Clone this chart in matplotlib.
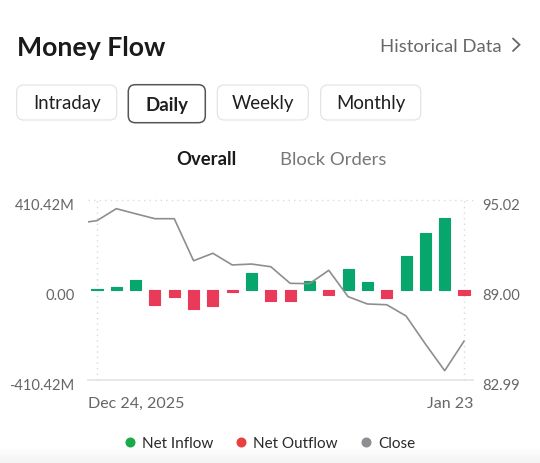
import matplotlib
matplotlib.use("Agg")
import matplotlib.pyplot as plt
import matplotlib.transforms as mtransforms
import numpy as np
from matplotlib.patches import FancyBboxPatch
from matplotlib.lines import Line2D

plt.rcParams['font.family'] = ['Lato', 'DejaVu Sans']

# ---------------- data ----------------
dates = ['Dec 24, 2025', 'Dec 26', 'Dec 29', 'Dec 30', 'Dec 31', 'Jan 2',
         'Jan 5', 'Jan 6', 'Jan 7', 'Jan 8', 'Jan 9', 'Jan 12', 'Jan 13',
         'Jan 14', 'Jan 15', 'Jan 16', 'Jan 20', 'Jan 21', 'Jan 22', 'Jan 23']
net_flow_m = [4, 12, 44, -68, -32, -90, -74, -12, 75, -50,
              -53, 41, -23, 93, 36, -39, 154, 259, 326, -26]
close = [93.62, 94.42, 94.08, 93.75, 93.75, 90.94, 91.44, 90.66, 90.72, 90.54,
         89.43, 89.41, 90.30, 88.54, 88.05, 88.00, 87.25, 85.38, 83.59, 85.56]
prev_close = 93.44
flow_ticks = [-410.42, 0.0, 410.42]
flow_tick_labels = ['-410.42M', '0.00', '410.42M']
price_ticks = [82.99, 89.00, 95.02]
price_tick_labels = ['82.99', '89.00', '95.02']
tabs = ['Intraday', 'Daily', 'Weekly', 'Monthly']
selected_tab = 'Daily'
sub_tabs = ['Overall', 'Block Orders']
legend_labels = ['Net Inflow', 'Net Outflow', 'Close']

GREEN = '#07A66C'
RED = '#EA3A5A'
LINE = '#8E8E8E'
LEG_GREEN = '#1AAA4A'
LEG_RED = '#E8423F'
LEG_GRAY = '#8E8E93'

W, H = 540, 464
fig = plt.figure(figsize=(W / 100, H / 100), dpi=100)
fig.patch.set_facecolor('white')

# ------------- overlay axes in pixel coordinates -------------
bg = fig.add_axes([0, 0, 1, 1], zorder=0)
bg.set_xlim(0, W)
bg.set_ylim(H, 0)
bg.axis('off')
bg.patch.set_visible(False)

bg.text(17, 56, 'Money Flow', fontsize=19.2, fontweight='bold', color='#1a1a1a',
        va='baseline', ha='left')
bg.text(380.5, 52.5, 'Historical Data', fontsize=13.3, color='#666666',
        va='baseline', ha='left')
bg.plot([513, 519.5, 513], [39.5, 45.7, 52], color='#666666', lw=1.3,
        solid_capstyle='round', solid_joinstyle='miter')

tab_boxes = [(16.7, 86, 100, 35), (128.3, 85.7, 77, 38), (217.3, 86, 91, 35), (320.7, 86, 100, 35)]
for name, (bx, by, bw, bh) in zip(tabs, tab_boxes):
    sel = name == selected_tab
    box = FancyBboxPatch((bx, by), bw, bh,
                         boxstyle='round,pad=0,rounding_size=7',
                         facecolor='white',
                         edgecolor='#555555' if sel else '#e4e4e4',
                         linewidth=1.1 if sel else 0.9)
    bg.add_patch(box)
    bg.text(bx + bw / 2, by + bh / 2 + (6.0 if sel else 5.2), name,
            fontsize=13.4, color='#1f1f1f',
            fontweight='bold' if sel else 'normal',
            ha='center', va='baseline')

bg.text(206.5, 165, sub_tabs[0], fontsize=13.3, fontweight='bold', color='#1a1a1a',
        ha='center', va='baseline')
bg.text(333.3, 165, sub_tabs[1], fontsize=13.3, color='#777777',
        ha='center', va='baseline')

# subtle bottom shade
grad = np.linspace(0, 1, 30).reshape(-1, 1)
bg.imshow(grad, extent=[0, W, H, 448], cmap='Greys', vmin=0, vmax=10,
          aspect='auto', zorder=0)

# ------------- chart -------------
ax = fig.add_axes([88 / W, 1 - 380.7 / H, 385 / W, 180 / H], zorder=2)
ax.patch.set_visible(False)
x = np.arange(len(dates))
bar_colors = [GREEN if v >= 0 else RED for v in net_flow_m]
ax.bar(x, net_flow_m, width=0.57, color=bar_colors, edgecolor=bar_colors,
       linewidth=0.8, joinstyle='round', zorder=3)
ax.set_xlim(-0.466, len(dates) - 1 + 0.466)
ax.set_ylim(flow_ticks[0], flow_ticks[-1])

ax.axhline(flow_ticks[-1], color='#d9d9d9', lw=1.0, ls=(0, (1, 3)), clip_on=False, zorder=1)
ax.axhline(flow_ticks[0], color='#e6e6e6', lw=1.3, clip_on=False, zorder=1)
for xi in (x[0], x[-1]):
    ax.axvline(xi, color='#d9d9d9', lw=1.0, ls=(0, (1, 3)), zorder=1)

for s in ax.spines.values():
    s.set_visible(False)
ax.set_yticks(flow_ticks)
ax.set_yticklabels(flow_tick_labels)
ax.tick_params(axis='y', length=0, pad=9.5, labelsize=10.6, labelcolor='#666666')
ax.set_xticks([])
ax.text(0, -0.152, dates[0], transform=ax.transAxes, ha='left', va='baseline',
        fontsize=11.5, color='#666666')
ax.text(1, -0.152, dates[-1], transform=ax.transAxes, ha='right', va='baseline',
        fontsize=11.5, color='#666666')

ax2 = ax.twinx()
ax2.plot(np.arange(-1, len(close)), [prev_close] + close, color=LINE, lw=1.2, zorder=4)
ax2.set_ylim(price_ticks[0], price_ticks[-1])
for s in ax2.spines.values():
    s.set_visible(False)
ax2.set_yticks(price_ticks)
ax2.set_yticklabels(price_tick_labels)
ax2.tick_params(axis='y', length=0, pad=7, labelsize=10.6, labelcolor='#666666')

# shift tick labels slightly down as in the reference
down = mtransforms.ScaledTranslation(0, -2.5 / 72, fig.dpi_scale_trans)
for lab in ax.get_yticklabels() + ax2.get_yticklabels():
    lab.set_transform(lab.get_transform() + down)

# ------------- legend -------------
handles = [Line2D([], [], marker='o', ls='', color=c, markersize=6.2)
           for c in (LEG_GREEN, LEG_RED, LEG_GRAY)]
fig.legend(handles, legend_labels, loc='center', ncol=3,
           bbox_to_anchor=(269.5 / W, 1 - 444 / H), frameon=False,
           fontsize=11, labelcolor='#2a2a2a', handlelength=0.8,
           handletextpad=0.4, columnspacing=1.4, borderpad=0, borderaxespad=0)

fig.savefig('out.png', dpi=100, facecolor='white')
